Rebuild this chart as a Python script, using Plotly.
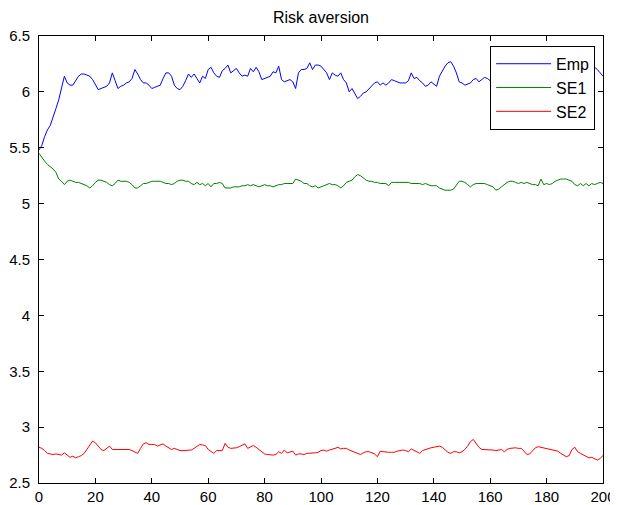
import plotly.graph_objects as go

x_vals = list(range(0, 201))

emp = [
    5.48, 5.52, 5.60, 5.66, 5.70, 5.77, 5.85, 5.93, 6.03, 6.14,
    6.08, 6.06, 6.06, 6.10, 6.14, 6.16, 6.16, 6.15, 6.14, 6.11,
    6.06, 6.02, 6.03, 6.04, 6.05, 6.08, 6.17, 6.10, 6.03, 6.05,
    6.06, 6.08, 6.09, 6.12, 6.20, 6.16, 6.11, 6.08, 6.08, 6.06,
    6.03, 6.04, 6.05, 6.06, 6.12, 6.17, 6.17, 6.14, 6.06, 6.03,
    6.02, 6.05, 6.10, 6.16, 6.13, 6.16, 6.12, 6.08, 6.14, 6.12,
    6.20, 6.22, 6.17, 6.14, 6.13, 6.19, 6.21, 6.24, 6.17, 6.19,
    6.21, 6.17, 6.14, 6.15, 6.14, 6.21, 6.18, 6.22, 6.18, 6.11,
    6.12, 6.13, 6.14, 6.18, 6.17, 6.23, 6.11, 6.09, 6.10, 6.11,
    6.09, 6.03, 6.17, 6.20, 6.20, 6.21, 6.26, 6.20, 6.24, 6.24,
    6.23, 6.20, 6.17, 6.11, 6.17, 6.15, 6.14, 6.17, 6.11, 6.08,
    6.00, 6.03, 5.98, 5.94, 5.96, 5.99, 6.00, 6.03, 6.05, 6.08,
    6.09, 6.06, 6.08, 6.06, 6.08, 6.11, 6.10, 6.09, 6.08, 6.08,
    6.08, 6.10, 6.17, 6.12, 6.13, 6.10, 6.08, 6.05, 6.06, 6.09,
    6.07, 6.05, 6.14, 6.19, 6.23, 6.26, 6.27, 6.23, 6.17, 6.09,
    6.08, 6.06, 6.07, 6.08, 6.11, 6.12, 6.09, 6.11, 6.13, 6.12,
    6.10, 6.14, 6.17, 6.15, 6.11, 6.09, 6.12, 6.16, 6.19, 6.15,
    6.12, 6.10, 6.08, 6.11, 6.14, 6.17, 6.13, 6.10, 6.12, 6.15,
    6.18, 6.21, 6.17, 6.14, 6.12, 6.10, 6.13, 6.16, 6.14, 6.11,
    6.09, 6.12, 6.15, 6.18, 6.20, 6.17, 6.19, 6.22, 6.20, 6.17,
    6.14,
]

se1 = [
    5.45, 5.41, 5.38, 5.35, 5.33, 5.31, 5.28, 5.22, 5.20, 5.17,
    5.20, 5.21, 5.20, 5.19, 5.19, 5.18, 5.17, 5.16, 5.14, 5.16,
    5.19, 5.21, 5.21, 5.20, 5.19, 5.17, 5.16, 5.18, 5.21, 5.20,
    5.20, 5.20, 5.19, 5.17, 5.14, 5.14, 5.16, 5.18, 5.18, 5.19,
    5.20, 5.20, 5.20, 5.20, 5.19, 5.18, 5.18, 5.17, 5.18, 5.20,
    5.21, 5.21, 5.20, 5.20, 5.18, 5.17, 5.19, 5.17, 5.18, 5.16,
    5.18, 5.15, 5.18, 5.18, 5.19, 5.18, 5.14, 5.14, 5.14, 5.15,
    5.15, 5.15, 5.16, 5.16, 5.17, 5.16, 5.17, 5.16, 5.15, 5.16,
    5.17, 5.16, 5.16, 5.15, 5.16, 5.17, 5.17, 5.18, 5.18, 5.18,
    5.18, 5.22, 5.21, 5.20, 5.18, 5.18, 5.16, 5.15, 5.16, 5.14,
    5.15, 5.16, 5.17, 5.18, 5.17, 5.17, 5.16, 5.14, 5.16, 5.19,
    5.20, 5.21, 5.24, 5.26, 5.25, 5.23, 5.21, 5.20, 5.20, 5.19,
    5.19, 5.18, 5.18, 5.18, 5.16, 5.19, 5.19, 5.19, 5.19, 5.19,
    5.19, 5.19, 5.18, 5.18, 5.18, 5.18, 5.17, 5.18, 5.17, 5.16,
    5.16, 5.16, 5.14, 5.13, 5.12, 5.12, 5.12, 5.13, 5.17, 5.20,
    5.20, 5.19, 5.17, 5.15, 5.17, 5.18, 5.18, 5.18, 5.18, 5.17,
    5.16, 5.15, 5.12, 5.13, 5.15, 5.17, 5.19, 5.20, 5.20, 5.19,
    5.18, 5.19, 5.18, 5.19, 5.18, 5.17, 5.17, 5.16, 5.22, 5.17,
    5.18, 5.17, 5.18, 5.20, 5.21, 5.22, 5.22, 5.22, 5.21, 5.20,
    5.17, 5.16, 5.18, 5.16, 5.18, 5.16, 5.18, 5.17, 5.18, 5.19,
    5.18,
]

se2 = [
    2.820, 2.810, 2.790, 2.765, 2.760, 2.755, 2.760, 2.755, 2.750, 2.770,
    2.750, 2.730, 2.740, 2.725, 2.735, 2.745, 2.765, 2.800, 2.840, 2.875,
    2.860, 2.830, 2.800, 2.790, 2.810, 2.830, 2.800, 2.800, 2.800, 2.800,
    2.800, 2.800, 2.800, 2.790, 2.775, 2.765, 2.810, 2.850, 2.860, 2.845,
    2.845, 2.845, 2.830, 2.840, 2.850, 2.830, 2.815, 2.800, 2.810, 2.800,
    2.790, 2.790, 2.790, 2.790, 2.795, 2.810, 2.830, 2.845, 2.840, 2.835,
    2.800, 2.780, 2.765, 2.790, 2.790, 2.790, 2.855, 2.820, 2.810, 2.810,
    2.815, 2.825, 2.840, 2.850, 2.810, 2.820, 2.835, 2.820, 2.800, 2.780,
    2.760, 2.755, 2.750, 2.750, 2.755, 2.780, 2.765, 2.795, 2.770, 2.780,
    2.785, 2.750, 2.760, 2.760, 2.755, 2.765, 2.765, 2.765, 2.770, 2.775,
    2.790, 2.795, 2.785, 2.795, 2.800, 2.810, 2.820, 2.805, 2.810, 2.810,
    2.795, 2.785, 2.775, 2.765, 2.755, 2.770, 2.780, 2.780, 2.770, 2.760,
    2.735, 2.785, 2.780, 2.775, 2.775, 2.775, 2.775, 2.785, 2.790, 2.795,
    2.790, 2.780, 2.805, 2.790, 2.775, 2.765, 2.790, 2.800, 2.810, 2.815,
    2.820, 2.825, 2.830, 2.820, 2.800, 2.775, 2.765, 2.780, 2.780, 2.770,
    2.780, 2.800, 2.830, 2.870, 2.890, 2.855, 2.820, 2.800, 2.800, 2.800,
    2.795, 2.795, 2.790, 2.795, 2.800, 2.780, 2.800, 2.810, 2.815, 2.815,
    2.810, 2.810, 2.785, 2.755, 2.760, 2.790, 2.815, 2.825, 2.820, 2.815,
    2.805, 2.800, 2.795, 2.790, 2.785, 2.765, 2.750, 2.735, 2.745, 2.800,
    2.820, 2.780, 2.765, 2.750, 2.735, 2.725, 2.730, 2.715, 2.705, 2.720,
    2.745,
]

series_names = ["Emp", "SE1", "SE2"]
series_colors = ["#0000FF", "#008000", "#FF0000"]
x_ticks = [0, 20, 40, 60, 80, 100, 120, 140, 160, 180, 200]
y_ticks = [2.5, 3, 3.5, 4, 4.5, 5, 5.5, 6, 6.5]
y_tick_labels = ["2.5", "3", "3.5", "4", "4.5", "5", "5.5", "6", "6.5"]

fig = go.Figure()
for name, vals, col in zip(series_names, [emp, se1, se2], series_colors):
    fig.add_trace(go.Scatter(x=x_vals, y=vals, mode="lines", name=name,
                             line=dict(color=col, width=1)))

font_family = "Liberation Sans, Arial, sans-serif"
axis_common = dict(showgrid=False, zeroline=False, showline=True,
                   linecolor="black", linewidth=1, mirror="ticks",
                   ticks="inside", ticklen=5, tickcolor="black", tickwidth=1,
                   automargin=False,
                   tickfont=dict(family=font_family, size=15, color="black"))

# page has an 8px body offset, so the figure is slightly smaller than the window
W, H = 610, 497
fig.update_layout(
    width=W, height=H,
    margin=dict(l=31, r=15, t=28, b=22, autoexpand=False),
    paper_bgcolor="white", plot_bgcolor="white",
    title=dict(text="Risk aversion", x=(31 + 595) / 2 / W, xanchor="center",
               y=1 - 9 / H, yanchor="middle", automargin=False,
               font=dict(family=font_family, size=16, color="black")),
    xaxis=dict(range=[0, 200], tickvals=x_ticks, **axis_common),
    yaxis=dict(range=[2.5, 6.5], tickvals=y_ticks, ticktext=y_tick_labels,
               ticklabelstandoff=5, **axis_common),
    legend=dict(x=0.986, y=0.978, xanchor="right", yanchor="top",
                bgcolor="white", bordercolor="black", borderwidth=1,
                font=dict(family=font_family, size=16, color="black"),
                tracegroupgap=0, itemwidth=55),
    showlegend=True,
)

fig.write_html("out.html")
